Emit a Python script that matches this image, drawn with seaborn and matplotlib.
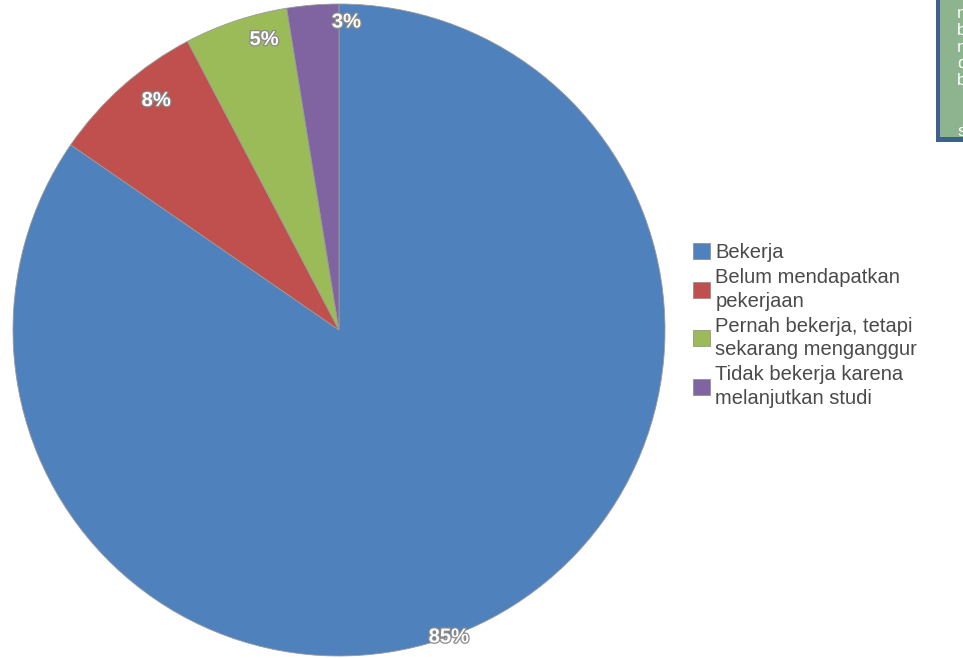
import matplotlib
matplotlib.use("Agg")
import numpy as np
import matplotlib.pyplot as plt
import matplotlib.patheffects as pe
from matplotlib.patches import Rectangle
import seaborn as sns

# Data (counts: 33/39, 3/39, 2/39, 1/39)
categories = [
    "Bekerja",
    "Belum mendapatkan\npekerjaan",
    "Pernah bekerja, tetapi\nsekarang menganggur",
    "Tidak bekerja karena\nmelanjutkan studi",
]
counts = [33, 3, 2, 1]
colors = ["#4F81BD", "#C0504D", "#9BBB59", "#8064A2"]

# label placement tweaks (angle shift in degrees, clockwise; radius fraction)
label_shift = [8, 3, 4, 6]
label_radius = [1.0, 0.90, 0.92, 0.945]

sns.set_theme(style="white")
plt.rcParams["font.family"] = ["Liberation Sans", "DejaVu Sans"]

fig = plt.figure(figsize=(9.63, 6.58), dpi=100)
W, H = 963, 658
cx, cy, r = 339, 330, 326
ax = fig.add_axes([(cx - r) / W, (H - cy - r) / H, 2 * r / W, 2 * r / H])

wedges, texts, autotexts = ax.pie(
    counts,
    colors=sns.color_palette(colors),
    startangle=90,
    counterclock=False,
    autopct=lambda p: f"{p:.0f}%",
    pctdistance=0.93,
    radius=1.0,
    wedgeprops=dict(edgecolor="#9a9a9a", linewidth=0.6),
)
for w, t, shift, rad in zip(wedges, autotexts, label_shift, label_radius):
    mid = np.deg2rad((w.theta1 + w.theta2) / 2 - shift)
    t.set_position((rad * np.cos(mid), rad * np.sin(mid)))
    t.set_color("white")
    t.set_fontsize(14.5)
    t.set_fontweight("bold")
    t.set_path_effects([pe.withStroke(linewidth=1.8, foreground="#8a8a8a")])
ax.set_xlim(-1.0, 1.0)
ax.set_ylim(-1.0, 1.0)
ax.set_aspect("equal")
ax.axis("off")

leg = fig.legend(
    wedges, categories,
    loc="upper left",
    bbox_to_anchor=(685 / W, 1 - 235 / H),
    frameon=False,
    fontsize=14.5,
    handlelength=0.85,
    handleheight=0.85,
    handletextpad=0.25,
    labelspacing=0.3,
    borderaxespad=0,
)
for t in leg.get_texts():
    t.set_color("#4a4a4a")
    t.set_linespacing(1.3)
for h in leg.legend_handles:
    h.set_edgecolor("#888888")
    h.set_linewidth(0.5)

# clipped callout box in the top-right corner
fig.patches.append(Rectangle((936 / W, 1 - 142 / H), 40 / W, 142 / H,
                             transform=fig.transFigure, facecolor="#3F5F8F",
                             edgecolor="none", zorder=1))
inner = Rectangle((940 / W, 1 - 137 / H), 40 / W, 137 / H,
                  transform=fig.transFigure, facecolor="#8DB48E",
                  edgecolor="none", zorder=2)
fig.patches.append(inner)
note = fig.text(957 / W, 1 - 6 / H,
                "menurut\nbekerja\nmenunggu\ndalam\nbulan\n\n\nsetelah",
                ha="left", va="top", fontsize=12.5, color="white",
                linespacing=1.15, zorder=3)
note.set_clip_path(inner)

fig.savefig("out.png", dpi=100)
